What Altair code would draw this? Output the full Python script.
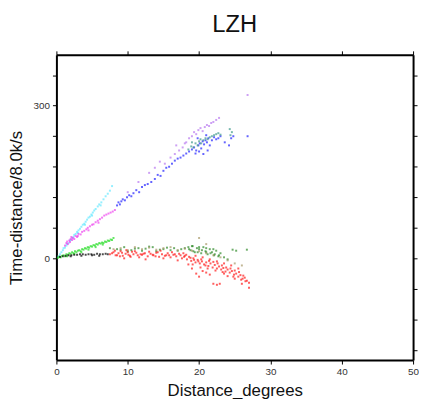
import altair as alt
import pandas as pd

# ---- data (distance in degrees, reduced time) ----
cyan_x = [0.3,0.5,0.7,0.9,1.0,1.2,1.4,1.5,1.7,1.9,2.0,2.2,2.4,2.5,2.7,2.9,3.1,3.3,3.5,3.7,3.9,4.1,4.3,4.5,4.7,4.9,5.1,5.3,5.5,5.8,6.0,6.3,6.6,6.9,7.2,7.5,7.8,3.0,4.0,5.0,6.2]
cyan_y = [4,8,12,16,20,21,25,28,30,35,36,40,42,46,48,52,55,58,62,66,68,72,76,80,82,86,90,94,97,102,106,110,116,122,127,133,142,50,66,84,104]

magenta_x = [1.2,1.4,1.5,1.6,1.8,1.9,2.0,2.2,2.3,2.5,2.7,2.9,3.1,3.4,3.6,3.9,4.2,4.4,4.7,5.0,5.2,5.5,5.8,6.1,6.4,6.7,7.0,7.3,7.6,7.9,8.2,2.1,3.0,4.5,5.9]
magenta_y = [25,30,33,28,35,32,38,36,40,38,44,42,48,47,52,54,57,60,63,66,67,71,74,77,80,84,86,88,90,92,95,42,44,55,70]

blue_x = [8.5,8.7,8.9,9.1,9.3,9.6,9.9,10.2,10.5,10.8,11.2,11.6,12.0,12.4,12.8,13.3,13.8,14.2,14.6,15.0,15.4,15.8,16.2,16.6,17.0,17.4,17.8,18.2,18.6,19.0,19.3,19.6,19.9,20.1,20.3,20.5,20.7,20.9,21.1,21.3,21.5,21.8,22.1,22.4,22.7,23.0,23.6,24.2,24.5,24.8,19.5,20.0,20.6,21.2,19.8,21.0,26.8]
blue_y = [104,110,106,112,116,114,120,124,122,128,134,130,140,144,146,150,156,164,162,172,178,180,186,192,196,198,202,206,210,214,218,212,222,226,216,230,224,232,228,236,222,232,238,234,236,240,228,222,236,240,206,210,205,212,236,242,240]

violet_x = [10.0,11.5,13.0,13.8,14.5,15.2,16.0,16.6,17.2,17.7,18.2,18.6,19.0,19.3,19.6,19.9,20.2,20.5,20.8,21.1,21.4,21.7,22.0,22.4,22.8,16.8,18.0,26.8]
violet_y = [130,150,168,178,190,186,198,205,212,218,228,236,240,248,244,252,256,250,258,262,260,266,268,272,276,222,226,321]

teal_x = [18.5,18.9,19.2,19.5,19.8,20.0,20.3,20.6,20.9,21.2,21.5,21.8,22.1,22.4,22.7,23.0,24.3,24.4,24.6,19.0,20.2]
teal_y = [214,220,218,226,222,230,226,232,236,234,238,240,242,244,246,243,254,242,248,228,234]

green_x = [0.2,0.4,0.6,0.8,1.0,1.2,1.4,1.6,1.8,2.0,2.2,2.4,2.6,2.8,3.0,3.2,3.4,3.6,3.8,4.0,4.2,4.4,4.6,4.8,5.0,5.2,5.4,5.6,5.8,6.0,6.2,6.4,6.6,6.8,7.0,7.2,7.4,7.6,7.8,8.0,1.5,2.5,3.5,4.5,5.5,6.5]
green_y = [1,3,2,5,6,4,8,7,10,9,12,10,14,12,15,16,14,18,17,20,19,22,21,24,23,26,25,28,27,30,29,31,30,33,32,35,34,37,36,40,4,9,12,17,22,27]

black_x = [0.5,0.9,1.3,1.7,2.1,2.5,2.9,3.3,3.7,4.1,4.5,4.9,5.3,5.7,6.1,6.5,6.9,7.2,2.0,3.5,5.0,6.0]
black_y = [3,4,5,6,6,7,7,8,8,7,8,8,7,9,8,8,9,8,4,5,6,5]

dgreen_x = [7.5,8.5,9.5,10.5,11.5,12.5,13.5,14.5,15.5,16.5,17.5,18.5,18.8,19.1,19.4,19.7,20.0,20.3,20.6,20.9,21.2,21.5,21.8,22.1,22.4,22.7,23.0,23.5,24.0,24.7,25.2,26.7,19.0,20.0,21.0,22.0,12.0,14.0,16.0,10.0,
            18.6,19.2,19.8,20.4,21.0,21.6,22.2,22.8,9.0,11.0,13.0,15.0,17.0,18.0]
dgreen_y = [20,18,22,16,20,19,22,17,21,20,18,22,16,24,12,20,18,10,22,14,8,18,12,6,15,4,10,2,-2,17,15,17,24,22,20,18,15,14,16,14,
            18,14,12,16,12,10,8,6,17,19,23,18,15,20]

olive_x = [8.0,9.0,10.0,11.0,12.0,13.0,14.0,15.0,16.0,17.0,18.0,19.0,20.0,21.0,22.0,23.0,24.0,25.0,26.0,21.0,20.0]
olive_y = [18,20,16,22,18,21,17,20,22,16,19,15,14,10,6,2,-4,-10,-14,28,40]

red_x = [7.5,8.0,8.3,8.7,9.0,9.3,9.7,10.0,10.4,10.8,11.2,11.6,12.0,12.4,12.8,13.2,13.6,14.0,14.4,14.8,15.2,15.6,16.0,16.4,16.8,17.2,17.6,18.0,18.3,18.6,18.9,19.2,19.5,19.8,20.1,20.4,20.7,21.0,21.3,21.6,21.9,22.2,22.5,22.8,23.1,23.4,23.7,24.0,24.3,24.6,24.9,25.2,25.5,25.8,26.1,26.4,26.7,27.0,
         19.0,19.6,20.0,20.5,21.0,21.5,22.0,22.5,22.9,24.0,25.0,26.0,27.0,26.5,23.5,18.5,9.5,12.5,15.0,17.0,
         8.2,9.8,11.0,13.0,14.6,16.2,17.8,19.5,20.5,21.5,22.5,23.5,24.5,25.5,
         7.8,8.5,9.2,10.1,10.6,11.4,12.2,13.5,14.2,15.4,16.6,17.4,18.2,18.8,19.3,19.9,20.3,20.9,21.4,22.0,22.6,23.2,23.8,24.4,25.0,25.6,26.2,
         8.9,10.3,11.8,13.9,15.8,17.9,19.1,20.2,21.2,22.3,23.3,24.8,25.9]
red_y = [8,12,6,10,14,5,9,12,3,8,11,2,7,10,4,9,6,11,3,8,5,10,2,7,4,9,0,5,-2,3,-5,0,-8,-3,-10,-6,-12,-8,-15,-10,-18,-13,-20,-16,-22,-19,-26,-22,-28,-25,-32,-30,-36,-33,-40,-38,-44,-48,
         -20,-30,-36,-25,-28,-32,-50,-52,-50,-35,-40,-50,-58,-45,-30,-12,0,-2,0,-4,
         15,16,14,13,15,12,10,5,2,-2,-6,-10,-14,-20,
         10,6,11,7,13,6,9,7,12,6,8,6,7,1,-3,-6,-2,-14,-5,-7,-10,-14,-18,-20,-24,-27,-34,
         4,5,8,4,6,3,-12,-18,-20,-24,-27,-36,-42]

series_names = ["cyan", "magenta", "blue", "violet", "teal", "green", "black", "dgreen", "olive", "red"]
series_colors = ["#66e8ff", "#ee44ee", "#2222ff", "#b877f0", "#3f9a8c", "#22dd22", "#000000", "#2f8a2a", "#a89868", "#ff1a1a"]
series_data = [(cyan_x, cyan_y), (magenta_x, magenta_y), (blue_x, blue_y), (violet_x, violet_y),
               (teal_x, teal_y), (green_x, green_y), (black_x, black_y), (dgreen_x, dgreen_y),
               (olive_x, olive_y), (red_x, red_y)]

rows = []
for name, (xs, ys) in zip(series_names, series_data):
    for xv, yv in zip(xs, ys):
        rows.append({"dist": xv, "t": yv, "series": name})
df = pd.DataFrame(rows)
df["idx"] = range(len(df))

x_ticks = [0, 10, 20, 30, 40, 50]
y_ticks = [-180, -120, -60, 0, 60, 120, 180, 240, 300, 360]
label_expr = "datum.value == 0 || datum.value == 300 ? datum.label : ''"

xscale = alt.Scale(domain=[0, 50], nice=False)
yscale = alt.Scale(domain=[-200, 400], nice=False)

common = dict(grid=False, domain=True, domainColor="black", domainWidth=2,
              tickColor="black", tickSize=4, tickWidth=1)

points = alt.Chart(df).mark_square(size=4, opacity=0.7).encode(
    x=alt.X("dist:Q", scale=xscale,
            axis=alt.Axis(title="Distance_degrees", values=x_ticks, orient="bottom",
                          labelFontSize=10, labelColor="#333", labelPadding=3, labelFlush=False,
                          titleFontSize=17, titleFontWeight="normal", titleColor="#111",
                          titlePadding=6, **common)),
    y=alt.Y("t:Q", scale=yscale,
            axis=alt.Axis(title="Time-distance/8.0k/s", values=y_ticks, orient="left",
                          labelExpr=label_expr, labelFontSize=10, labelFlush=False,
                          labelColor="#333", labelPadding=3, titleFontSize=17,
                          titleFontWeight="normal", titleColor="#111", titlePadding=8,
                          **common)),
    color=alt.Color("series:N", scale=alt.Scale(domain=series_names, range=series_colors),
                    legend=None),
    order=alt.Order("idx:Q"),
)

frame = alt.Chart(df).mark_point(opacity=0).encode(
    x=alt.X("dist:Q", scale=xscale,
            axis=alt.Axis(title=None, values=x_ticks, orient="top", labels=False, **common)),
    y=alt.Y("t:Q", scale=yscale,
            axis=alt.Axis(title=None, values=y_ticks, orient="right", labels=False, **common)),
)

chart = alt.layer(points, frame).resolve_axis(x="independent", y="independent").properties(
    width=361, height=309,
    title=alt.TitleParams("LZH", fontSize=24, fontWeight="normal", anchor="middle",
                          font="Liberation Sans", color="#111", offset=14),
    autosize=alt.AutoSizeParams(type="none"),
    padding={"left": 49, "top": 45, "right": 6, "bottom": 37},
).configure_view(stroke=None).configure(
    font="Liberation Sans", background="white"
)

chart.save("out.html", embed_options={"renderer": "svg", "actions": False})
